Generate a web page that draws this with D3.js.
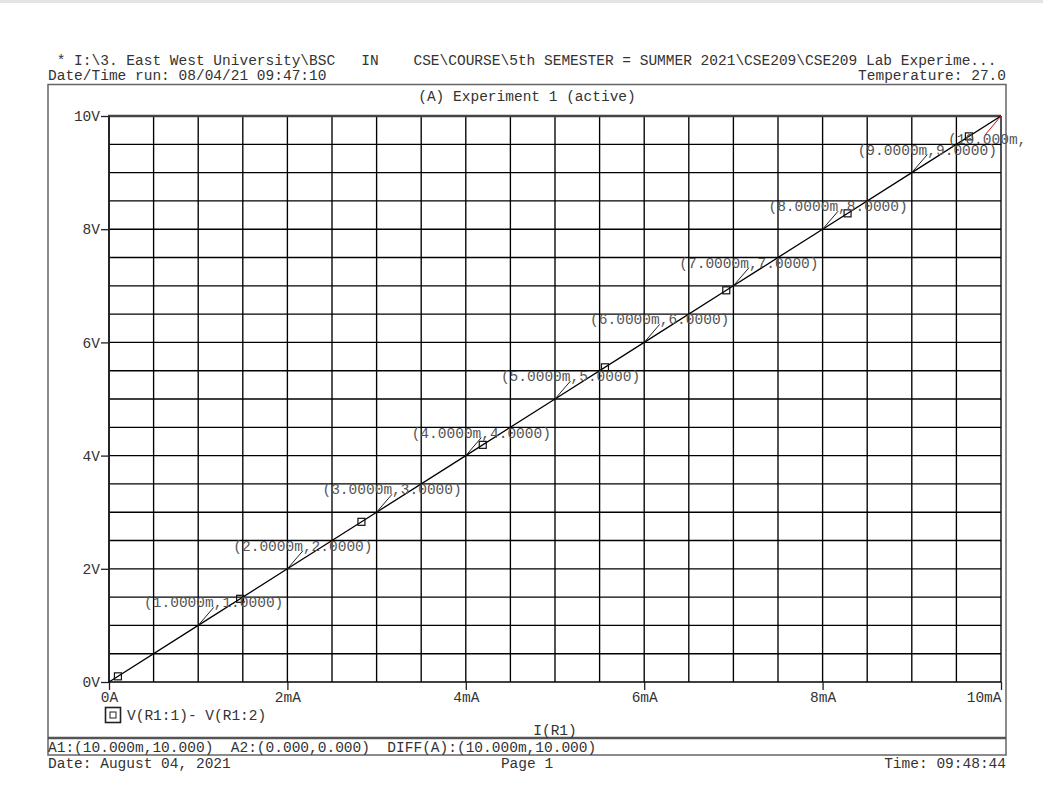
<!DOCTYPE html>
<html>
<head>
<meta charset="utf-8">
<script src="https://cdn.jsdelivr.net/npm/d3@7"></script>
<style>
  html, body { margin: 0; padding: 0; background: #fff; }
  svg text { font-family: "Liberation Mono", "DejaVu Sans Mono", monospace; font-size: 14.5px; white-space: pre; }
</style>
</head>
<body>
<svg id="chart" width="1043" height="799"></svg>
<script>
// ---- data ----
const currentMA = [0, 1, 2, 3, 4, 5, 6, 7, 8, 9, 10];          // I(R1) in mA
const voltageV  = [0, 1, 2, 3, 4, 5, 6, 7, 8, 9, 10];          // V(R1:1)-V(R1:2)
const markerCurrentMA = [0.1, 1.47, 2.83, 4.19, 5.56, 6.92, 8.28, 9.64];
const markerVoltageV  = [0.1, 1.47, 2.83, 4.19, 5.56, 6.92, 8.28, 9.64];
const xTickValues = [0, 2, 4, 6, 8, 10];
const xTickLabels = ["0A", "2mA", "4mA", "6mA", "8mA", "10mA"];
const yTickValues = [0, 2, 4, 6, 8, 10];
const yTickLabels = ["0V", "2V", "4V", "6V", "8V", "10V"];
const annotX = [1, 2, 3, 4, 5, 6, 7, 8, 9];
const annotY = [1, 2, 3, 4, 5, 6, 7, 8, 9];
const annotLabels = ["(1.0000m,1.0000)", "(2.0000m,2.0000)", "(3.0000m,3.0000)",
  "(4.0000m,4.0000)", "(5.0000m,5.0000)", "(6.0000m,6.0000)", "(7.0000m,7.0000)",
  "(8.0000m,8.0000)", "(9.0000m,9.0000)"];
const endAnnot = { x: 10, y: 10, label: "(10.000m," };
const headerLine1 = " * I:\\3. East West University\\BSC   IN    CSE\\COURSE\\5th SEMESTER = SUMMER 2021\\CSE209\\CSE209 Lab Experime...";
const headerLine2 = "Date/Time run: 08/04/21 09:47:10";
const temperature = "Temperature: 27.0";
const plotTitle = "(A) Experiment 1 (active)";
const legendLabel = "V(R1:1)- V(R1:2)";
const xAxisTitle = "I(R1)";
const cursorLine = "A1:(10.000m,10.000)  A2:(0.000,0.000)  DIFF(A):(10.000m,10.000)";
const footerDate = "Date: August 04, 2021";
const footerPage = "Page 1";
const footerTime = "Time: 09:48:44";

// ---- drawing ----
const svg = d3.select("#chart");
const textCol = "#333";
const x = d3.scaleLinear().domain([0, 10]).range([109, 1001]);
const y = d3.scaleLinear().domain([0, 10]).range([682, 116]);

svg.append("rect").attr("x", 0).attr("y", 0).attr("width", 1043).attr("height", 3).attr("fill", "#e4e4e4");

// header
svg.append("text").attr("x", 48).attr("y", 60).attr("dy", "0.35em").attr("fill", textCol).text(headerLine1);
svg.append("text").attr("x", 48).attr("y", 75).attr("dy", "0.35em").attr("fill", textCol).text(headerLine2);
svg.append("text").attr("x", 1006).attr("y", 75).attr("dy", "0.35em").attr("text-anchor", "end").attr("fill", textCol).text(temperature);

// outer frame
svg.append("rect").attr("x", 48).attr("y", 84.5).attr("width", 958).attr("height", 670.5)
  .attr("fill", "none").attr("stroke", "#666").attr("stroke-width", 1.5);
svg.append("line").attr("x1", 48).attr("x2", 1006).attr("y1", 738).attr("y2", 738)
  .attr("stroke", "#555").attr("stroke-width", 2.5);

svg.append("text").attr("x", 527).attr("y", 96).attr("dy", "0.35em").attr("text-anchor", "middle").attr("fill", textCol).text(plotTitle);

// grid
const gridVals = d3.range(0, 10.001, 0.5);
const grid = svg.append("g").attr("stroke", "#000").attr("stroke-width", 1.35);
grid.selectAll("line.v").data(gridVals).enter().append("line")
  .attr("x1", d => x(d)).attr("x2", d => x(d)).attr("y1", y(0)).attr("y2", y(10));
grid.selectAll("line.h").data(gridVals).enter().append("line")
  .attr("y1", d => y(d)).attr("y2", d => y(d)).attr("x1", x(0)).attr("x2", x(10));
// thicker top border
svg.append("line").attr("x1", x(0) - 1).attr("x2", x(10)).attr("y1", y(10)).attr("y2", y(10))
  .attr("stroke", "#444").attr("stroke-width", 2.5);
svg.append("line").attr("x1", x(0)).attr("x2", x(0)).attr("y1", y(10)).attr("y2", y(0) + 1)
  .attr("stroke", "#222").attr("stroke-width", 1.8);

// axes via d3
const xAxis = d3.axisBottom(x).tickValues(xTickValues).tickSize(8).tickPadding(2)
  .tickFormat((d, i) => xTickLabels[i]);
const gx = svg.append("g").attr("transform", `translate(0,${y(0)})`).call(xAxis);
gx.select(".domain").remove();
gx.selectAll("line").attr("stroke", "#222").attr("stroke-width", 1.3);
gx.selectAll("text").attr("fill", textCol).attr("font-family", null).attr("font-size", null)
  .attr("y", 15).attr("dy", "0.35em")
  .attr("text-anchor", (d, i) => i === xTickValues.length - 1 ? "end" : "middle");

const yAxis = d3.axisLeft(y).tickValues(yTickValues).tickSize(8).tickPadding(1)
  .tickFormat((d, i) => yTickLabels[i]);
const gy = svg.append("g").attr("transform", `translate(${x(0)},0)`).call(yAxis);
gy.select(".domain").remove();
gy.selectAll("line").attr("stroke", "#222").attr("stroke-width", 1.3);
gy.selectAll("text").attr("fill", textCol).attr("font-family", null).attr("font-size", null);

// series line
const line = d3.line().x((d, i) => x(currentMA[i])).y((d, i) => y(voltageV[i]));
svg.append("path").datum(voltageV).attr("d", line).attr("fill", "none")
  .attr("stroke", "#000").attr("stroke-width", 1.3);

// markers
const ms = 7;
svg.selectAll("rect.mk").data(markerCurrentMA).enter().append("rect")
  .attr("x", d => x(d) - ms / 2).attr("y", (d, i) => y(markerVoltageV[i]) - ms / 2)
  .attr("width", ms).attr("height", ms)
  .attr("fill", "none").attr("stroke", "#111").attr("stroke-width", 1.2);

// annotations
const ann = svg.append("g");
annotX.forEach((v, i) => {
  const px = x(v), py = y(annotY[i]);
  ann.append("line").attr("x1", px).attr("y1", py).attr("x2", px + 15.5).attr("y2", py - 18)
    .attr("stroke", "#222").attr("stroke-width", 1);
  ann.append("text").attr("x", px + 15.5).attr("y", py - 23).attr("dy", "0.35em")
    .attr("text-anchor", "middle").attr("fill", "#555").text(annotLabels[i]);
});
{
  const px = x(endAnnot.x), py = y(endAnnot.y);
  ann.append("line").attr("x1", px).attr("y1", py).attr("x2", px - 16).attr("y2", py + 19)
    .attr("stroke", "#d01010").attr("stroke-width", 1);
  ann.append("text").attr("x", px - 53).attr("y", py + 23).attr("dy", "0.35em")
    .attr("fill", "#555").text(endAnnot.label);
}

// legend
svg.append("rect").attr("x", 105.5).attr("y", 707.5).attr("width", 15).attr("height", 15)
  .attr("fill", "none").attr("stroke", "#222").attr("stroke-width", 1.6);
svg.append("rect").attr("x", 110).attr("y", 712).attr("width", 6).attr("height", 6)
  .attr("fill", "none").attr("stroke", "#222").attr("stroke-width", 1);
svg.append("text").attr("x", 127).attr("y", 715).attr("dy", "0.35em").attr("fill", textCol).text(legendLabel);

svg.append("text").attr("x", 555).attr("y", 730).attr("dy", "0.35em").attr("text-anchor", "middle").attr("fill", textCol).text(xAxisTitle);

// cursor + footer
svg.append("text").attr("x", 48).attr("y", 746.5).attr("dy", "0.35em").attr("fill", textCol).text(cursorLine);
svg.append("text").attr("x", 48).attr("y", 763).attr("dy", "0.35em").attr("fill", textCol).text(footerDate);
svg.append("text").attr("x", 527).attr("y", 763).attr("dy", "0.35em").attr("text-anchor", "middle").attr("fill", textCol).text(footerPage);
svg.append("text").attr("x", 1006).attr("y", 763).attr("dy", "0.35em").attr("text-anchor", "end").attr("fill", textCol).text(footerTime);
</script>
</body>
</html>
